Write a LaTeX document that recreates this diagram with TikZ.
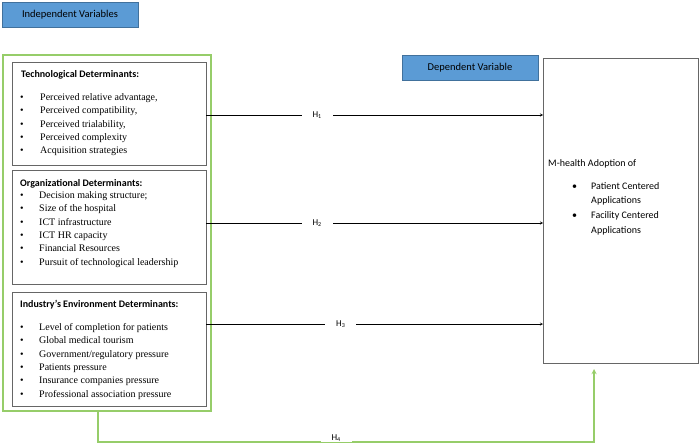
\documentclass[tikz,border=0pt]{standalone}
\usepackage{fontspec}
\setmainfont{Liberation Serif}
\newfontfamily\calibri{Carlito}
\usetikzlibrary{arrows}
\definecolor{varblue}{RGB}{91,155,213}
\definecolor{varedge}{RGB}{65,113,156}
\definecolor{framegreen}{RGB}{150,205,105}

\begin{document}
\begin{tikzpicture}[x=1pt, y=-1pt, >=stealth,
  var/.style={draw=varedge, fill=varblue, minimum width=136pt, minimum height=25pt, inner sep=0pt, font=\calibri\fontsize{10.5}{12}\selectfont},
  det/.style={anchor=north west, inner sep=0pt, outer sep=0pt},
  detbox/.style={det, draw=black!60},
  head/.style={anchor=base west, inner sep=0pt, font=\calibri\bfseries\fontsize{10}{12}\selectfont},
  item/.style={anchor=base west, inner sep=0pt, font=\fontsize{10}{12}\selectfont},
  sitem/.style={anchor=base west, inner sep=0pt, font=\calibri\fontsize{10}{12}\selectfont},
  hyp/.style={fill=white, inner xsep=11pt, inner ysep=1pt, font=\calibri\fontsize{9}{10}\selectfont}]

\useasboundingbox (0,0) rectangle (700,444);

\node[var](indvar) at (70,14.5){Independent Variables};
\node[var](depvar) at (470,67.5){Dependent Variable};

\node[det, draw=framegreen, line width=1.5pt, minimum width=208pt, minimum height=356pt](indep) at (3,55){};
\node[detbox, minimum width=194pt, minimum height=103pt](tech) at (12,62){};
\node[detbox, minimum width=194pt, minimum height=114pt](org) at (12,170){};
\node[detbox, minimum width=194pt, minimum height=114pt](ind) at (12,292){};
\node[detbox, minimum width=155pt, minimum height=305pt](mh) at (543,58){};

\node[head](techhead) at (21,77.5){Technological Determinants:};
\node[head](orghead) at (20,186.5){Organizational Determinants:};
\node[head](indhead) at (20,307.5){Industry’s Environment Determinants:};

\foreach \txt [count=\i] in {{Perceived relative advantage,}, {Perceived compatibility,}, {Perceived trialability,}, Perceived complexity, Acquisition strategies}{
\node[item](tb\i) at (20,87.2+13.3*\i){\textbullet};
\node[item](tech\i) at (40,87.2+13.3*\i){\txt};
}
\foreach \txt [count=\i] in {Decision making structure;, Size of the hospital, ICT infrastructure, ICT HR capacity, Financial Resources, Pursuit of technological leadership}{
\node[item](ob\i) at (20,185.2+13.3*\i){\textbullet};
\node[item](org\i) at (39,185.2+13.3*\i){\txt};
}
\foreach \txt [count=\i] in {Level of completion for patients, Global medical tourism, Government/regulatory pressure, Patients pressure, Insurance companies pressure, Professional association pressure}{
\node[item](ib\i) at (20,317.2+13.3*\i){\textbullet};
\node[item](ind\i) at (39,317.2+13.3*\i){\txt};
}

\node[sitem](mhhead) at (548,166.5){M-health Adoption of};
\node[sitem](mb1) at (572,189.5){\textbullet};
\node[sitem](mh1) at (591,189.5){Patient Centered};
\node[sitem](mh1b) at (591,203.5){Applications};
\node[sitem](mb2) at (572,218.5){\textbullet};
\node[sitem](mh2) at (591,218.5){Facility Centered};
\node[sitem](mh2b) at (591,233.5){Applications};

\draw[->] (tech.east |- 0,115) -- node[hyp, pos=.33]{H\textsubscript{1}} (mh.west |- 0,115);
\draw[->] (org.east |- 0,223) -- node[hyp, pos=.33]{H\textsubscript{2}} (mh.west |- 0,223);
\draw[->] (ind.east |- 0,324) -- node[hyp, pos=.40]{H\textsubscript{3}} (mh.west |- 0,324);
\draw[->, framegreen, line width=1.3pt, shorten >=6pt] (indep.south -| 98,0) -- (98,442) -- node[hyp, pos=.48, yshift=4pt]{\color{black}H\textsubscript{4}} (594,442) -- (mh.south -| 594,0);
\end{tikzpicture}
\end{document}
